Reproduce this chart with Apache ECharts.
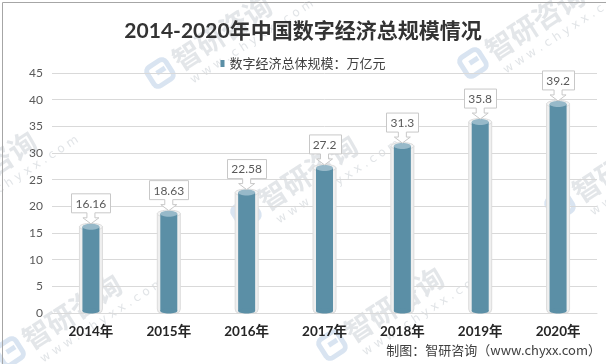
<!DOCTYPE html>
<html><head><meta charset="utf-8">
<script src="https://cdn.jsdelivr.net/npm/echarts@6/dist/echarts.min.js"></script>
<style>html,body{margin:0;padding:0;background:#fff}#c{width:606px;height:364px}</style>
</head><body><div id="c"></div>
<script>
const categories = ['2014年','2015年','2016年','2017年','2018年','2019年','2020年'];
const values = [16.16, 18.63, 22.58, 27.2, 31.3, 35.8, 39.2];
const labels = ['16.16','18.63','22.58','27.2','31.3','35.8','39.2'];
const seriesName = '数字经济总体规模：万亿元';
const titleText = '2014-2020年中国数字经济总规模情况';
const sourceText = '制图：智研咨询（www.chyxx.com）';
const watermarkText = '智研咨询';
const watermarkUrl = 'w w w . c h y x x . c o m';
// watermark anchor points (logo centres)
const watermarkAnchors = [[160,73],[473,63],[-75,209],[246,213],[560,205],[10,352],[332,345]];

const NUMFONT = 'Lato, "Noto Sans CJK SC", sans-serif';
const measureCtx = document.createElement('canvas').getContext('2d');
measureCtx.font = '12px ' + NUMFONT;

function renderItem(params, api) {
  const idx = api.value(0);
  const v = api.value(1);
  const top = api.coord([idx, v]);
  const base = api.coord([idx, 0]);
  const cx = top[0];
  const w = 17, ow = 23;
  const lab = labels[idx];
  const tw = measureCtx.measureText(lab).width;
  const bw = Math.round(tw + 8), bh = 19;
  const tip = top[1] - 3;
  const headTop = tip - 6, stemTop = headTop - 5;
  const by1 = stemTop, by0 = by1 - bh;
  const bx0 = Math.round(cx - bw / 2) + 0.5, bx1 = bx0 + bw;
  const sx = 4, hx = 8;
  const p = [
    'M', bx0, by0, 'L', bx1, by0, 'L', bx1, by1,
    'L', cx + sx, by1, 'L', cx + sx, headTop, 'L', cx + hx, headTop,
    'L', cx, tip, 'L', cx - hx, headTop, 'L', cx - sx, headTop,
    'L', cx - sx, by1, 'L', bx0, by1, 'Z'
  ].join(' ');
  return {
    type: 'group',
    children: [
      { type: 'rect', shape: { x: cx - ow / 2, y: top[1], width: ow, height: base[1] - top[1], r: [0,0,4,4] },
        style: { fill: '#efefef', stroke: '#dcdcdc', lineWidth: 1 } },
      { type: 'ellipse', shape: { cx: cx, cy: top[1], rx: ow / 2, ry: 3.5 },
        style: { fill: '#f4f4f4', stroke: '#dcdcdc', lineWidth: 1 } },
      { type: 'rect', shape: { x: cx - w / 2, y: top[1], width: w, height: base[1] - top[1] - 2 },
        style: { fill: '#5b8fa6' } },
      { type: 'ellipse', shape: { cx: cx, cy: base[1] - 2, rx: w / 2, ry: 2.5 },
        style: { fill: '#5b8fa6' } },
      { type: 'ellipse', shape: { cx: cx, cy: top[1], rx: w / 2, ry: 3 },
        style: { fill: '#97b9c9' } },
      { type: 'path', shape: { pathData: p },
        style: { fill: '#ffffff', stroke: '#c8c8c8', lineWidth: 1 } },
      { type: 'text', x: cx, y: (by0 + by1) / 2 + 0.5,
        style: { text: lab, fill: '#595959', font: '12px ' + NUMFONT, align: 'center', verticalAlign: 'middle' } }
    ]
  };
}

const ROT = 33 * Math.PI / 180;
const wmGraphics = watermarkAnchors.map(a => ({
  type: 'group', x: a[0], y: a[1], rotation: ROT, silent: true, z: -10,
  children: [
    { type: 'rect', shape: { x: -11, y: -11, width: 22, height: 22, r: 5 },
      style: { fill: 'none', stroke: 'rgba(170,195,225,0.45)', lineWidth: 5 } },
    { type: 'rect', shape: { x: -3, y: -4, width: 10, height: 5 },
      style: { fill: 'rgba(170,195,225,0.45)' } },
    { type: 'text', x: 18, y: 0,
      style: { text: watermarkText, fill: 'rgba(200,205,212,0.5)', font: 'bold 28px "Noto Sans CJK SC", sans-serif',
               align: 'left', verticalAlign: 'middle' } },
    { type: 'text', x: 22, y: 24,
      style: { text: watermarkUrl, fill: 'rgba(200,205,212,0.55)', font: '12px "DejaVu Sans", sans-serif',
               align: 'left', verticalAlign: 'middle' } }
  ]
}));

const chart = echarts.init(document.getElementById('c'), null, { renderer: 'canvas' });
chart.setOption({
  animation: false,
  backgroundColor: '#ffffff',
  title: {
    text: titleText, left: 'center', top: 16,
    textStyle: { fontSize: 21, fontWeight: 'bold', color: '#333333', fontFamily: NUMFONT }
  },
  legend: {
    data: [{ name: seriesName, icon: 'rect' }],
    left: 'center', top: 52, itemWidth: 4, itemHeight: 7,
    textStyle: { fontSize: 13, color: '#404040', fontFamily: '"Noto Sans CJK SC", sans-serif' }
  },
  grid: { left: 52, right: 9, top: 73, bottom: 51 },
  xAxis: {
    type: 'category', data: categories,
    axisLine: { show: true, lineStyle: { color: '#d9d9d9' } },
    axisTick: { show: false },
    axisLabel: { margin: 12, fontSize: 13.5, fontWeight: 'bold', color: '#262626', fontFamily: NUMFONT }
  },
  yAxis: {
    type: 'value', min: 0, max: 45, interval: 5,
    axisLine: { show: false }, axisTick: { show: false },
    splitLine: { lineStyle: { color: '#d9d9d9' } },
    axisLabel: { margin: 9, fontSize: 12, color: '#595959', fontFamily: NUMFONT }
  },
  series: [{
    type: 'custom', name: seriesName,
    itemStyle: { color: '#5b8fa6' },
    renderItem: renderItem,
    encode: { x: 0, y: 1 },
    data: values.map((v, i) => [i, v]),
    clip: false
  }],
  graphic: wmGraphics.concat([
    { type: 'rect', left: 0, top: 0, shape: { width: 605, height: 363 },
      style: { fill: 'none', stroke: '#a6a6a6', lineWidth: 1 }, silent: true, z: 100 },
    { type: 'text', right: 5, top: 344,
      style: { text: sourceText, fill: '#404040', font: '13px "Noto Sans CJK SC", sans-serif' } }
  ])
});
</script></body></html>
